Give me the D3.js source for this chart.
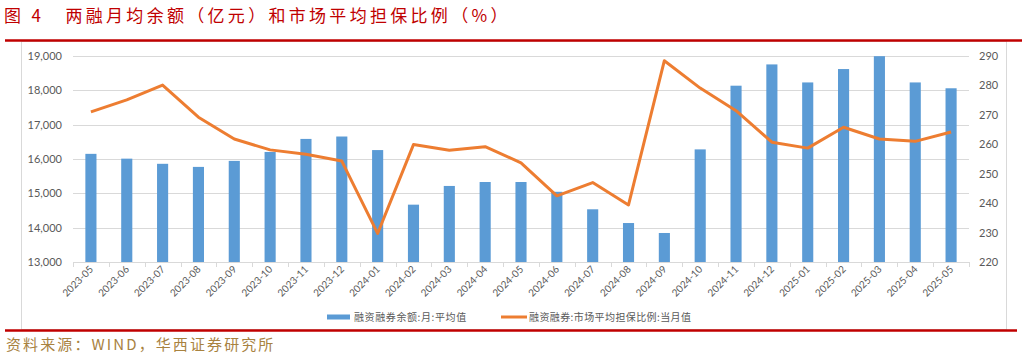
<!DOCTYPE html>
<html>
<head>
<meta charset="utf-8">
<script src="https://cdn.jsdelivr.net/npm/d3@7"></script>
<style>
	body { margin: 0; background: #fff; }
	svg { display: block; }
</style>
</head>
<body>
<div id="chart"></div>
<script>
// Data
var months = ["2023-05","2023-06","2023-07","2023-08","2023-09","2023-10","2023-11","2023-12",
	"2024-01","2024-02","2024-03","2024-04","2024-05","2024-06","2024-07","2024-08","2024-09",
	"2024-10","2024-11","2024-12","2025-01","2025-02","2025-03","2025-04","2025-05"];

// 融资融券余额:月:平均值 (亿元)
var balance = [16150, 16010, 15860, 15770, 15945, 16205, 16585, 16655,
	16260, 14670, 15215, 15330, 15330, 15045, 14535, 14135, 13845,
	16280, 18135, 18755, 18230, 18620, 18995, 18230, 18060];

// 融资融券:市场平均担保比例:当月值 (%)
var ratio = [271.0, 275.1, 280.1, 269.2, 261.8, 258.1, 256.6, 254.3,
	229.7, 259.9, 258.0, 259.2, 253.7, 242.5, 247.0, 239.4, 288.4,
	279.1, 271.4, 260.7, 258.7, 265.8, 261.8, 261.0, 264.2];

var leftTicks = [13000, 14000, 15000, 16000, 17000, 18000, 19000];
var rightTicks = [220, 230, 240, 250, 260, 270, 280, 290];

var titleText = "图 4   两融月均余额（亿元）和市场平均担保比例（%）";
var sourceText = "资料来源：WIND，华西证券研究所";
var legendNames = ["融资融券余额:月:平均值", "融资融券:市场平均担保比例:当月值"];

var width = 1029;
var height = 357;
var margin = {left: 73, right: 60, top: 56, bottom: 95};

var svg = d3.select("#chart")
	.append("svg")
	.attr("width", width)
	.attr("height", height);

// title + red rules
svg.append("text")
	.attr("x", 4)
	.attr("y", 22)
	.attr("fill", "#c00000")
	.style("font-family", "'Noto Sans CJK SC'")
	.style("font-size", "17px")
	.style("letter-spacing", "3.3px")
	.style("white-space", "pre")
	.text(titleText);

svg.append("rect")
	.attr("x", 21.5).attr("y", 41.5)
	.attr("width", 985).attr("height", 288)
	.style("fill", "none")
	.style("stroke", "#d9d9d9");

svg.append("line")
	.attr("x1", 5).attr("x2", 1022)
	.attr("y1", 40.5).attr("y2", 40.5)
	.style("stroke", "#c00000")
	.style("stroke-width", 2.5);

svg.append("line")
	.attr("x1", 5).attr("x2", 1017)
	.attr("y1", 330.5).attr("y2", 330.5)
	.style("stroke", "#c00000")
	.style("stroke-width", 2.5);

svg.append("text")
	.attr("x", 6)
	.attr("y", 350)
	.attr("fill", "#a8823f")
	.style("font-family", "'Noto Sans CJK SC'")
	.style("font-size", "15px")
	.style("letter-spacing", "2.1px")
	.text(sourceText);

// scales
var x = d3.scaleBand()
	.domain(months)
	.range([margin.left, 969]);

var yLeft = d3.scaleLinear()
	.domain([13000, 19000])
	.range([262, margin.top]);

var yRight = d3.scaleLinear()
	.domain([220, 290])
	.range([262, margin.top]);

var format = d3.format(",");
var barWidth = x.bandwidth() * 0.31;

// gridlines
svg.append("g")
	.attr("class", "grid")
	.selectAll("line")
	.data(leftTicks)
	.enter()
	.append("line")
	.attr("x1", margin.left)
	.attr("x2", 969)
	.attr("y1", d => Math.round(yLeft(d)) + 0.5)
	.attr("y2", d => Math.round(yLeft(d)) + 0.5)
	.style("stroke", "#d9d9d9")
	.style("stroke-width", 1);

// left axis labels
var leftAxis = d3.axisLeft(yLeft)
	.tickValues(leftTicks)
	.tickSize(0)
	.tickPadding(11)
	.tickFormat(format);

svg.append("g")
	.attr("transform", "translate(" + margin.left + ",0)")
	.call(leftAxis)
	.call(g => g.select(".domain").remove())
	.selectAll("text")
	.attr("fill", "#595959")
	.style("font-family", "Lato")
	.style("font-size", "11px");

// right axis labels
var rightAxis = d3.axisRight(yRight)
	.tickValues(rightTicks)
	.tickSize(0)
	.tickPadding(10)
	.tickFormat(d3.format("d"));

svg.append("g")
	.attr("transform", "translate(969,0)")
	.call(rightAxis)
	.call(g => g.select(".domain").remove())
	.selectAll("text")
	.attr("fill", "#595959")
	.style("font-family", "Lato")
	.style("font-size", "11px");

// bars
svg.append("g")
	.selectAll("rect")
	.data(balance)
	.enter()
	.append("rect")
	.attr("x", (d, i) => x(months[i]) + (x.bandwidth() - barWidth) / 2)
	.attr("y", d => yLeft(d))
	.attr("width", barWidth)
	.attr("height", d => yLeft(13000) - yLeft(d))
	.style("fill", "#5b9bd5");

// bottom axis: ticks at band edges
var edges = months.map(d => x(d)).concat([x.range()[1]]);
var xAxis = svg.append("g");

xAxis.append("line")
	.attr("x1", margin.left)
	.attr("x2", 969)
	.attr("y1", 262.5)
	.attr("y2", 262.5)
	.style("stroke", "#d9d9d9");

xAxis.selectAll("line.tick")
	.data(edges)
	.enter()
	.append("line")
	.attr("class", "tick")
	.attr("x1", d => Math.round(d) + 0.5)
	.attr("x2", d => Math.round(d) + 0.5)
	.attr("y1", 262)
	.attr("y2", 267)
	.style("stroke", "#d9d9d9");

xAxis.selectAll("text")
	.data(months)
	.enter()
	.append("text")
	.attr("transform", d => "translate(" + (x(d) + x.bandwidth() / 2 + 3) + ",270) rotate(-45)")
	.attr("text-anchor", "end")
	.attr("fill", "#595959")
	.style("font-family", "Lato")
	.style("font-size", "10px")
	.text(d => d);

// line
var line = d3.line()
	.x((d, i) => x(months[i]) + x.bandwidth() / 2)
	.y(d => yRight(d));

svg.append("path")
	.datum(ratio)
	.attr("d", line)
	.style("fill", "none")
	.style("stroke", "#ed7d31")
	.style("stroke-width", 3)
	.style("stroke-linejoin", "round");

// legend
var legend = svg.append("g").attr("class", "legend");

legend.append("rect")
	.attr("x", 327).attr("y", 314.5)
	.attr("width", 23).attr("height", 5)
	.style("fill", "#5b9bd5");

legend.append("text")
	.attr("x", 354).attr("y", 321)
	.attr("fill", "#595959")
	.style("font-family", "'Noto Sans CJK SC'")
	.style("font-size", "10px")
	.style("letter-spacing", "0.6px")
	.text(legendNames[0]);

legend.append("line")
	.attr("x1", 501).attr("x2", 527)
	.attr("y1", 317).attr("y2", 317)
	.style("stroke", "#ed7d31")
	.style("stroke-width", 3);

legend.append("text")
	.attr("x", 529).attr("y", 321)
	.attr("fill", "#595959")
	.style("font-family", "'Noto Sans CJK SC'")
	.style("font-size", "10px")
	.style("letter-spacing", "0.4px")
	.text(legendNames[1]);
</script>
</body>
</html>
